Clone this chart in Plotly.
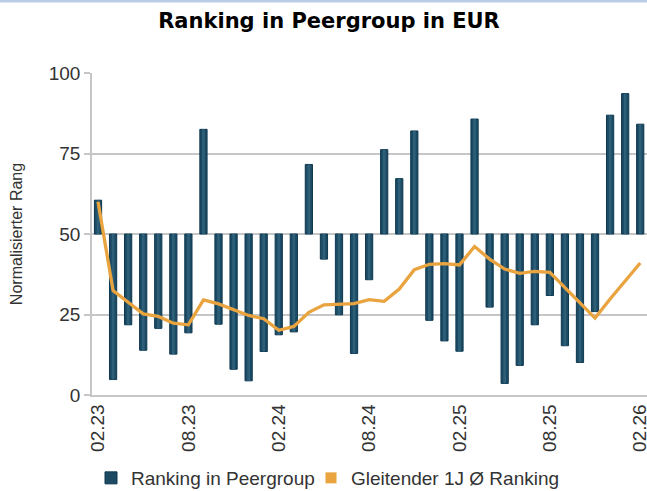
import plotly.graph_objects as go

months = ["02.23", "03.23", "04.23", "05.23", "06.23", "07.23", "08.23", "09.23", "10.23", "11.23",
          "12.23", "01.24", "02.24", "03.24", "04.24", "05.24", "06.24", "07.24", "08.24", "09.24",
          "10.24", "11.24", "12.24", "01.25", "02.25", "03.25", "04.25", "05.25", "06.25", "07.25",
          "08.25", "09.25", "10.25", "11.25", "12.25", "01.26", "02.26"]

ranking = [60.5, 4.8, 21.8, 13.9, 20.7, 12.7, 19.3, 82.5, 22.0, 8.0,
           4.4, 13.5, 18.7, 19.6, 71.6, 42.2, 24.9, 12.9, 35.8, 76.2,
           67.2, 82.0, 23.2, 16.8, 13.6, 85.7, 27.3, 3.6, 9.2, 21.8,
           30.9, 15.3, 10.1, 25.9, 86.9, 93.6, 84.1]

moving_avg = [60.0, 32.4, 28.8, 25.2, 24.4, 22.3, 21.8, 29.5, 28.3, 26.5,
              24.7, 23.7, 20.1, 21.3, 25.7, 28.0, 28.3, 28.4, 29.6, 29.1,
              32.9, 38.9, 40.6, 40.8, 40.4, 46.1, 42.2, 39.1, 37.8, 38.4,
              38.1, 33.4, 28.8, 23.9, 29.8, 35.5, 41.0]

tick_labels = ["02.23", "08.23", "02.24", "08.24", "02.25", "08.25", "02.26"]

baseline = 50
bar_name = "Ranking in Peergroup"
line_name = "Gleitender 1J Ø Ranking"
title_text = "Ranking in Peergroup in EUR"
y_title = "Normalisierter Rang"

BAR_DARK = "#1c4a63"
BAR_EDGE = "#0d3850"
BAR_LIGHT = "#2e5f78"
ORANGE = "#E9A440"
GRID = "#c6c6c6"
TXT = "#333333"

deltas = [v - baseline for v in ranking]

fig = go.Figure()
fig.add_trace(go.Bar(
    x=months, y=deltas, base=baseline, name=bar_name, width=0.48,
    marker=dict(color=BAR_DARK, line=dict(color=BAR_EDGE, width=1)),
    hoverinfo="skip", showlegend=True, legend="legend",
))
fig.add_trace(go.Bar(
    x=months, y=deltas, base=baseline, width=0.18,
    marker=dict(color=BAR_LIGHT, line=dict(width=0)),
    hoverinfo="skip", showlegend=False,
))
fig.add_trace(go.Scatter(
    x=months, y=moving_avg, mode="lines", name=line_name,
    line=dict(color=ORANGE, width=3.3), showlegend=False, hoverinfo="skip",
))
fig.add_trace(go.Scatter(
    x=[None], y=[None], mode="markers", name=line_name,
    marker=dict(symbol="square", size=11, color=ORANGE), legend="legend2",
))

legend_common = dict(orientation="h", xref="container", xanchor="left",
                     yref="container", y=1 - 478 / 491, yanchor="middle",
                     font=dict(size=19, color=TXT), itemclick=False, bgcolor="rgba(0,0,0,0)")

fig.update_layout(
    width=647, height=491,
    margin=dict(l=92, r=0, t=73, b=96),
    paper_bgcolor="white", plot_bgcolor="white",
    barmode="overlay",
    font=dict(family="Liberation Sans, Arial, sans-serif", size=19, color=TXT),
    title=dict(text="<b>" + title_text + "</b>", x=329 / 647, xref="container", xanchor="center",
               y=1 - 21 / 491, yref="container", yanchor="middle",
               font=dict(family="DejaVu Sans, Verdana, sans-serif", size=21, color="#000000")),
    legend=dict(x=91 / 647, **legend_common),
    legend2=dict(x=311 / 647, **legend_common),
    showlegend=True,
)

fig.update_xaxes(
    type="category", range=[-0.4, 36.45], tickmode="array", tickvals=tick_labels, ticktext=tick_labels,
    tickangle=-90, showgrid=False, showline=True, linecolor=GRID, linewidth=1.5,
    ticks="", automargin=False, tickfont=dict(size=19, color=TXT), fixedrange=True,
)
fig.update_yaxes(
    range=[0, 100], tickvals=[0, 25, 50, 75, 100], showgrid=True, gridcolor=GRID, gridwidth=1.5,
    showline=True, linecolor=GRID, linewidth=1.5, ticks="outside", ticklen=6, tickcolor=GRID,
    tickwidth=1.5, zeroline=False, automargin=False, tickfont=dict(size=19, color=TXT),
    title=dict(text=y_title, font=dict(size=16, color=TXT), standoff=22), fixedrange=True,
)

fig.add_shape(type="line", xref="paper", yref="paper", x0=-0.2, x1=1.0,
              y0=(395 - 1) / 322, y1=(395 - 1) / 322, line=dict(color="#b9cde5", width=3))

fig.write_html(
    "out.html",
    config={"displayModeBar": False},
    post_script="document.body.style.margin='0';document.body.style.padding='0';document.body.style.overflow='hidden';",
)
